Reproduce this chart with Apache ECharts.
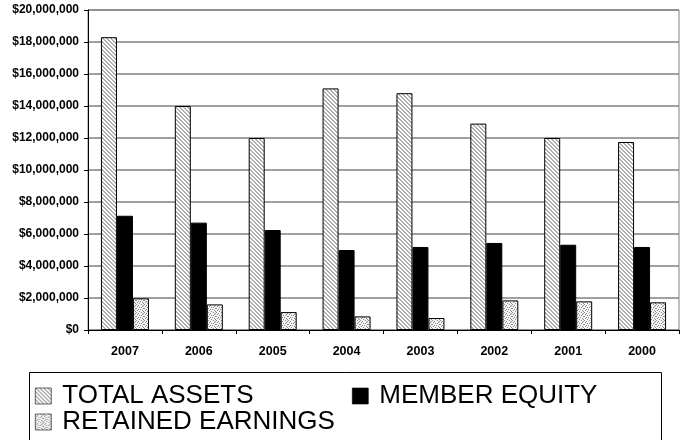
<!DOCTYPE html>
<html>
<head>
<meta charset="utf-8">
<script src="https://cdn.jsdelivr.net/npm/echarts@6/dist/echarts.min.js"></script>
<style>html,body{margin:0;padding:0;background:#fff}#c{width:686px;height:440px}</style>
</head>
<body>
<div id="c"></div>
<script>
var categories = ['2007','2006','2005','2004','2003','2002','2001','2000'];
var totalAssets = [18300000, 14000000, 12000000, 15100000, 14800000, 12900000, 12000000, 11750000];
var memberEquity = [7140000, 6710000, 6250000, 5000000, 5190000, 5440000, 5330000, 5190000];
var retainedEarnings = [1980000, 1600000, 1120000, 850000, 750000, 1850000, 1790000, 1730000];
var seriesNames = ['TOTAL ASSETS', 'MEMBER EQUITY', 'RETAINED EARNINGS'];
var yTicks = {min: 0, max: 20000000, interval: 2000000};

function hatch() {
  var c = document.createElement('canvas'); c.width = 4; c.height = 4;
  var g = c.getContext('2d');
  g.fillStyle = '#ffffff'; g.fillRect(0,0,4,4);
  g.fillStyle = '#b0b0b0';
  for (var y = 0; y < 4; y++) for (var x = 0; x < 4; x++) {
    var d = ((x - y) % 4 + 4) % 4;
    if (d === 0 || d === 1) g.fillRect(x, y, 1, 1);
  }
  return c;
}
function dots() {
  var pat = [
    '10000100',
    '00100001',
    '01000010',
    '00010100',
    '10000001',
    '00101000',
    '01000010',
    '00010001'
  ];
  var c = document.createElement('canvas'); c.width = 8; c.height = 8;
  var g = c.getContext('2d');
  g.fillStyle = '#f4f4f4'; g.fillRect(0,0,8,8);
  g.fillStyle = '#8a8a8a';
  for (var y = 0; y < 8; y++) for (var x = 0; x < 8; x++) if (pat[y][x] === '1') g.fillRect(x, y, 1, 1);
  return c;
}
var hatchFill = {image: hatch(), repeat: 'repeat'};
var dotFill = {image: dots(), repeat: 'repeat'};

var chart = echarts.init(document.getElementById('c'), null, {renderer: 'canvas'});
var font = 'Liberation Sans, Arial, sans-serif';
function legendAt(name, left, top) {
  return {
    data: [name], left: left, top: top, padding: 0, itemWidth: 16, itemHeight: 16,
    icon: 'rect', selectedMode: false,
    itemStyle: {borderColor: '#000', borderWidth: 0.6},
    textStyle: {fontFamily: font, fontSize: 26, color: '#000', lineHeight: 16, padding: [0,0,0,6]}
  };
}
chart.setOption({
  animation: false,
  backgroundColor: '#fff',
  grid: {left: 88, right: 7, top: 10, bottom: 110, show: true, borderColor: '#808080', borderWidth: 1},
  xAxis: {
    type: 'category', data: categories,
    axisLine: {lineStyle: {color: '#000', width: 1}},
    axisTick: {show: true, length: 4, lineStyle: {color: '#000'}},
    axisLabel: {fontFamily: font, fontWeight: 'bold', fontSize: 12.5, color: '#000', margin: 15}
  },
  yAxis: {
    type: 'value', min: yTicks.min, max: yTicks.max, interval: yTicks.interval,
    axisLine: {show: true, lineStyle: {color: '#000', width: 1}},
    axisTick: {show: true, length: 4, lineStyle: {color: '#000'}},
    splitLine: {lineStyle: {color: '#808080', width: 1.5}},
    axisLabel: {fontFamily: font, fontWeight: 'bold', fontSize: 12, color: '#000', margin: 9,
      formatter: function (v) { return '$' + v.toLocaleString('en-US'); }}
  },
  graphic: [{type: 'rect', shape: {x: 29.5, y: 372.5, width: 632, height: 100}, style: {fill: '#fff', stroke: '#000', lineWidth: 1}, z: -1}],
  legend: [legendAt(seriesNames[0], 35, 383), legendAt(seriesNames[1], 352, 383), legendAt(seriesNames[2], 35, 409)],
  series: [
    {name: seriesNames[0], type: 'bar', data: totalAssets, barWidth: 16, barGap: '0%',
      itemStyle: {color: hatchFill, borderColor: '#000', borderWidth: 1}},
    {name: seriesNames[1], type: 'bar', data: memberEquity, barWidth: 16, barGap: '0%',
      itemStyle: {color: '#000', borderColor: '#000', borderWidth: 1}},
    {name: seriesNames[2], type: 'bar', data: retainedEarnings, barWidth: 16, barGap: '0%',
      itemStyle: {color: dotFill, borderColor: '#000', borderWidth: 1}}
  ]
});
</script>
</body>
</html>
